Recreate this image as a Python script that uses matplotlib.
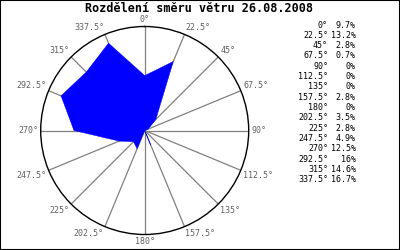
import numpy as np
import matplotlib
matplotlib.use("Agg")
import matplotlib.pyplot as plt
from matplotlib.patches import Rectangle

title = "Rozdělení směru větru 26.08.2008"
directions = [0, 22.5, 45, 67.5, 90, 112.5, 135, 157.5, 180, 202.5, 225, 247.5, 270, 292.5, 315, 337.5]
dir_labels = ["0°", "22.5°", "45°", "67.5°", "90°", "112.5°", "135°", "157.5°",
              "180°", "202.5°", "225°", "247.5°", "270°", "292.5°", "315°", "337.5°"]
values = [9.7, 13.2, 2.8, 0.7, 0, 0, 0, 2.8, 0, 3.5, 2.8, 4.9, 12.5, 16, 14.6, 16.7]
value_labels = ["9.7%", "13.2%", "2.8%", "0.7%", "0%", "0%", "0%", "2.8%",
                "0%", "3.5%", "2.8%", "4.9%", "12.5%", "16%", "14.6%", "16.7%"]

W, H = 400, 250
fig = plt.figure(figsize=(4, 2.5), dpi=100)
fig.patch.set_facecolor("white")
fig.patches.append(Rectangle((0, 0), 1, 1, transform=fig.transFigure, fill=False,
                             edgecolor="black", linewidth=1.5, zorder=10))

cx, cy, R = 144.7, 130.5, 104
ax = fig.add_axes([(cx - R) / W, (H - cy - R) / H, 2 * R / W, 2 * R / H], projection="polar")
ax.set_theta_zero_location("N")
ax.set_theta_direction(-1)
rmax = max(values) * 1.1
ax.set_ylim(0, rmax)
ax.grid(False)
ax.set_xticks([])
ax.set_yticks([])
ax.spines["polar"].set_color("black")
ax.spines["polar"].set_linewidth(1.0)

th = np.deg2rad(directions)
for t in th:
    ax.plot([t, t], [0, rmax], color="#808080", lw=0.9, zorder=1)

tc = np.append(th, th[0])
vc = np.append(values, values[0])
ax.fill(tc, vc, facecolor="#0000ff", edgecolor="#0000ff", linewidth=0.3, zorder=3)

mono = "DejaVu Sans Mono"
for t, lab in zip(th, dir_labels):
    s, c = np.sin(t), np.cos(t)
    ha = "left" if s > 0.01 else ("right" if s < -0.01 else "center")
    va = "bottom" if c > 0.01 else ("top" if c < -0.01 else "center")
    ax.text(t, rmax * 1.025, lab, ha=ha, va=va, fontsize=6, family=mono,
            color="#606060", clip_on=False)

fig.text(199 / W, 1 - 8.5 / H, title, ha="center", va="center", fontsize=8.5,
         family=mono, fontweight="bold", color="black")

y0, step = 25, 10.33
for i, (d, v) in enumerate(zip(dir_labels, value_labels)):
    y = 1 - (y0 + i * step) / H
    fig.text(328 / W, y, d, ha="right", va="center", fontsize=6, family=mono, color="black")
    fig.text(355.5 / W, y, v, ha="right", va="center", fontsize=6, family=mono, color="black")

fig.savefig("out.png", dpi=100)
